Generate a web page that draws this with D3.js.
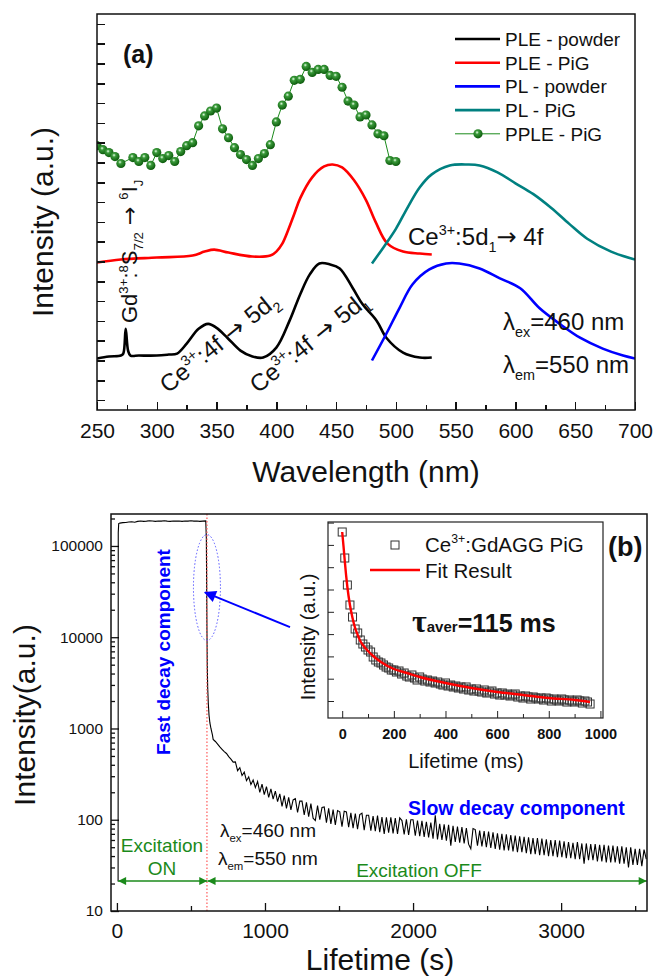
<!DOCTYPE html>
<html>
<head>
<meta charset="utf-8">
<script src="https://cdn.jsdelivr.net/npm/d3@7"></script>
<style>
  body { margin: 0; background: #fff; }
  text { font-family: "Liberation Sans", Arial, sans-serif; }
</style>
</head>
<body>
<script>
// ---------- panel (a) data ----------
var pleWl = [250,260,270,272,274,276,278,285,300,310,317,325,335,343,350,359,370,380,389,400,411,420,428,436,445,453,464,472,484,492,506,520,530];
var plePowder = [52,54,55,57,82,60,55,55,55,56,57,67,82,87,83,73,60,54,53,63,90,117,137,148,147,143,123,107,90,73,58,53,53];
var plePigWl = [250,270,300,330,340,348,360,380,395,400,405,410,415,420,430,440,447,455,465,475,483,493,506,520,530];
var plePig = [149,152,154,156,160,162,159,155,156,160,168,182,198,214,235,246,248,245,232,212,190,168,160,158,157];
var plPowderWl = [480,492,503,514,528,542,553,570,587,604,620,637,654,673,690,700];
var plPowder = [50,77,103,127,142,148,148,143,133,123,103,87,73,62,55,52];
var plPigWl = [480,490,500,510,520,530,545,560,570,585,600,615,630,645,660,680,700];
var plPig = [148,165,183,205,225,238,247,248,247,240,229,218,204,188,173,160,152];
var ppleWl = [250,255,260,265,270,280,285,290,295,300,305,310,315,320,325,330,335,340,345,350,355,360,365,370,375,380,385,390,395,400,405,410,415,420,425,430,435,440,445,450,455,460,465,470,475,480,485,490,495,500];
var pplePig = [267,263,260,256,249,255,251,255,247,260,254,257,251,261,267,270,287,297,302,305,284,275,265,258,253,247,254,259,268,291,308,317,333,334,347,341,344,344,338,337,326,312,308,296,298,288,279,277,252,251];
var wlTicks = [250,300,350,400,450,500,550,600,650,700];
var legendLabels = ["PLE - powder","PLE - PiG","PL - powder","PL - PiG","PPLE - PiG"];

// ---------- panel (b) data ----------
var onT = [8,9,12,20,40,60,80,100,120,140,160,180,200,220,240,260,280,300,320,340,360,380,400,420,440,460,480,500,520,540,560,580,600];
var onV = [21,140000,176000,178000,180000,181000,183000,184000,182000,186000,188000,186000,187000,189000,188000,186000,188000,187000,189000,187000,186000,188000,187000,188000,186000,188000,187000,189000,187000,188000,186000,187000,188000];
var dropT = [604,606,608,610,613,617,622,628,635,645];
var dropV = [120000,40000,12000,5000,2800,1900,1400,1150,1000,850];
var tailT = [
  650,665,680,695,710,725,740,755,770,785,
  800,815,830,845,860,875,890,905,920,935,
  950,965,980,995,1010,1025,1040,1055,1070,1085,
  1100,1115,1130,1145,1160,1175,1190,1205,1220,1235,
  1250,1265,1280,1295,1310,1325,1340,1355,1370,1385,
  1400,1415,1430,1445,1460,1475,1490,1505,1520,1535,
  1550,1565,1580,1595,1610,1625,1640,1655,1670,1685,
  1700,1715,1730,1745,1760,1775,1790,1805,1820,1835,
  1850,1865,1880,1895,1910,1925,1940,1955,1970,1985,
  2000,2015,2030,2045,2060,2075,2090,2105,2120,2135,
  2150,2165,2180,2195,2210,2225,2240,2255,2270,2285,
  2300,2315,2330,2345,2360,2375,2390,2405,2420,2435,
  2450,2465,2480,2495,2510,2525,2540,2555,2570,2585,
  2600,2615,2630,2645,2660,2675,2690,2705,2720,2735,
  2750,2765,2780,2795,2810,2825,2840,2855,2870,2885,
  2900,2915,2930,2945,2960,2975,2990,3005,3020,3035,
  3050,3065,3080,3095,3110,3125,3140,3155,3170,3185,
  3200,3215,3230,3245,3260,3275,3290,3305,3320,3335,
  3350,3365,3380,3395,3410,3425,3440,3455,3470,3485,
  3500,3515,3530,3545,3560,3575];
var tailV = [
  760,720,675,628,592,558,532,492,462,428,
  430,345,372,305,332,268,295,243,272,225,
  262,200,246,188,230,176,218,168,206,158,
  192,140,184,133,176,128,165,170,120,160,
  160,113,155,108,150,104,98,143,100,136,
  138,93,133,90,129,88,126,122,84,124,
  122,83,119,81,117,79,114,118,77,112,
  112,76,110,75,111,73,107,70,106,72,
  106,71,104,70,105,98,69,101,68,100,
  100,67,98,66,97,65,95,64,93,62,
  112,61,90,60,89,59,88,52,86,57,
  84,56,83,55,81,54,48,80,78,52,
  76,51,75,50,74,49,73,48,71,47,
  70,46,69,46,68,45,67,44,66,44,
  65,43,64,42,63,42,63,41,62,41,
  61,40,60,40,60,39,59,39,58,38,
  57,38,56,37,57,37,55,33,55,36,
  54,36,54,35,53,35,53,34,52,34,
  52,34,51,33,51,33,50,30,50,32,
  48,32,48,31,47,37];
var timeTicks = [0,1000,2000,3000];
var logTicks = [10,100,1000,10000,100000];

// inset
var insetT = [0,10,20,30,40,50,60,70,80,90,100,110,120,130,140,150,160,170,180,190,
  200,210,220,230,240,250,260,270,280,290,300,310,320,330,340,350,360,370,380,390,
  400,410,420,430,440,450,460,470,480,490,500,510,520,530,540,550,560,570,580,590,
  600,610,620,630,640,650,660,670,680,690,700,710,720,730,740,750,760,770,780,790,
  800,810,820,830,840,850,860,870,880,890,900,910,920,930,940,950,960];
var insetV = [186,160,133,113,101,89,85,78,74,71,68,66,61,58,56,55,53,51,50,48,
  48,46,47,44,45,42,41,43,40,38,41,39,37,38,36,37,35,36,34,33,
  35,32,33,31,32,30,31,29,31,28,29,27,29,27,26,28,25,26,27,24,
  25,23,25,23,24,22,23,24,21,22,20,22,21,19,21,20,19,20,18,20,
  19,17,19,18,17,19,18,16,18,17,16,18,17,15,17,16,14];
var fitT = [0,5,10,15,20,30,40,50,60,70,80,100,120,150,200,250,300,400,500,600,700,800,900,960];
var fitV = [186,172,157,143,131,113,100,90,83,77,73,67,62,56,49,45,41,35,30,26,23,20,18,16];
var insetTicks = [0,200,400,600,800,1000];

var green = "#1b8a1b";
var ARROW_FONT = "DejaVu Sans";

var svg = d3.select("body").append("svg").attr("width", 655).attr("height", 979);
var defs = svg.append("defs");

// rich text: parts with sup/sub
function rich(g, tr, size, parts, attrs) {
  var t = g.append("text").attr("transform", tr).attr("font-size", size);
  if (attrs) for (var k in attrs) t.attr(k, attrs[k]);
  var shift = 0;
  parts.forEach(function (p) {
    var target = p.sup ? -0.42 * size : (p.sub ? 0.28 * size : 0);
    var s = t.append("tspan").text(p.t).attr("dy", target - shift);
    if (p.sup || p.sub) s.attr("font-size", size * 0.6);
    if (p.font) s.attr("font-family", p.font);
    if (p.size) s.attr("font-size", p.size);
    shift = target;
  });
  return t;
}

// =============== panel (a) ===============
var xA = d3.scaleLinear().domain([250, 700]).range([97, 635]);
var yA = d3.scaleLinear().domain([0, 400]).range([410, 14]);

defs.append("clipPath").attr("id", "clipA").append("rect")
  .attr("x", 97).attr("y", 14).attr("width", 538).attr("height", 396);

var ga = svg.append("g");

var grad = defs.append("radialGradient").attr("id", "ball").attr("cx", "40%").attr("cy", "35%").attr("r", "65%");
grad.append("stop").attr("offset", "0%").attr("stop-color", "#e8ffe8");
grad.append("stop").attr("offset", "30%").attr("stop-color", "#3a9a3a");
grad.append("stop").attr("offset", "100%").attr("stop-color", "#0b5a0b");

var lineA = d3.line().x(function (d) { return xA(d[0]); }).y(function (d) { return yA(d[1]); })
  .curve(d3.curveCatmullRom.alpha(0.5));

var seriesA = [
  {wl: pleWl, v: plePowder, c: "#000000"},
  {wl: plePigWl, v: plePig, c: "#ff0000"},
  {wl: plPowderWl, v: plPowder, c: "#0000ff"},
  {wl: plPigWl, v: plPig, c: "#008080"}
];
var plotA = ga.append("g").attr("clip-path", "url(#clipA)");
seriesA.forEach(function (s) {
  plotA.append("path").datum(d3.zip(s.wl, s.v)).attr("d", lineA)
    .attr("fill", "none").attr("stroke", s.c).attr("stroke-width", 2.6);
});
var ppleData = d3.zip(ppleWl, pplePig);
plotA.append("path").datum(ppleData)
  .attr("d", d3.line().x(function (d) { return xA(d[0]); }).y(function (d) { return yA(d[1]); }))
  .attr("fill", "none").attr("stroke", green).attr("stroke-width", 1);
plotA.selectAll("circle.pp").data(ppleData).enter().append("circle")
  .attr("cx", function (d) { return xA(d[0]); }).attr("cy", function (d) { return yA(d[1]); })
  .attr("r", 4.6).attr("fill", "url(#ball)");

// axes (a)
ga.append("g").attr("transform", "translate(0,410)")
  .call(d3.axisBottom(xA).tickValues(d3.range(275, 700, 50)).tickSize(-5).tickFormat(""))
  .call(function (g) { g.select(".domain").remove(); });
ga.append("g").attr("transform", "translate(0,410)")
  .call(d3.axisBottom(xA).tickValues(wlTicks).tickSizeInner(-8).tickSizeOuter(0).tickPadding(13)
    .tickFormat(d3.format("d")))
  .call(function (g) {
    g.select(".domain").remove();
    g.selectAll("text").attr("font-size", 21).attr("fill", "#111").attr("font-family", "Liberation Sans, Arial");
  });
ga.append("g").attr("transform", "translate(97,0)")
  .call(d3.axisLeft(yA).tickValues(d3.range(10, 400, 20)).tickSize(-8).tickFormat(""))
  .call(function (g) { g.select(".domain").remove(); });
ga.selectAll(".tick line").attr("stroke", "#111").attr("stroke-width", 1.5).attr("shape-rendering", "crispEdges");
ga.append("rect").attr("x", 97).attr("y", 14).attr("width", 538).attr("height", 396)
  .attr("fill", "none").attr("stroke", "#111").attr("stroke-width", 1.5);

ga.append("text").attr("x", 366).attr("y", 482).attr("text-anchor", "middle")
  .attr("font-size", 30).attr("fill", "#111").text("Wavelength (nm)");
ga.append("text").attr("transform", "translate(53,222) rotate(-90)").attr("text-anchor", "middle")
  .attr("font-size", 30).attr("fill", "#111").text("Intensity (a.u.)");
ga.append("text").attr("x", 123).attr("y", 63).attr("font-size", 25).attr("font-weight", "bold")
  .attr("fill", "#111").text("(a)");

// legend (a)
var legColors = ["#000000", "#ff0000", "#0000ff", "#008080", green];
legendLabels.forEach(function (lab, i) {
  var y = 39 + i * 23.7;
  if (i < 4) {
    ga.append("line").attr("x1", 455).attr("x2", 500).attr("y1", y).attr("y2", y)
      .attr("stroke", legColors[i]).attr("stroke-width", 2.6);
  } else {
    ga.append("line").attr("x1", 455).attr("x2", 500).attr("y1", y).attr("y2", y)
      .attr("stroke", green).attr("stroke-width", 1);
    ga.append("circle").attr("cx", 478).attr("cy", y).attr("r", 4.6).attr("fill", "url(#ball)");
  }
  ga.append("text").attr("x", 505).attr("y", y + 7).attr("font-size", 19).attr("fill", "#111").text(lab);
});

// annotations (a)
rich(ga, "translate(137,323) rotate(-90)", 22, [
  {t: "Gd"}, {t: "3+", sup: true}, {t: ":"}, {t: "8", sup: true}, {t: "S"}, {t: "7/2", sub: true},
  {t: " \u2192 ", font: ARROW_FONT}, {t: "6", sup: true}, {t: "I"}, {t: "J", sub: true}
], {fill: "#111"});
rich(ga, "translate(168,394) rotate(-39)", 24, [
  {t: "Ce"}, {t: "3+", sup: true}, {t: ":4f"}, {t: " \u2192 ", font: ARROW_FONT}, {t: "5d"}, {t: "2", sub: true}
], {fill: "#111"});
rich(ga, "translate(258,394) rotate(-39)", 24, [
  {t: "Ce"}, {t: "3+", sup: true}, {t: ":4f"}, {t: " \u2192 ", font: ARROW_FONT}, {t: "5d"}, {t: "1", sub: true}
], {fill: "#111"});
rich(ga, "translate(408,245)", 24, [
  {t: "Ce"}, {t: "3+", sup: true}, {t: ":5d"}, {t: "1", sub: true}, {t: "\u2192", font: ARROW_FONT}, {t: " 4f"}
], {fill: "#111"});
rich(ga, "translate(503,330)", 24, [{t: "\u03bb"}, {t: "ex", sub: true}, {t: "=460 nm"}], {fill: "#111"});
rich(ga, "translate(503,373)", 24, [{t: "\u03bb"}, {t: "em", sub: true}, {t: "=550 nm"}], {fill: "#111"});

// =============== panel (b) ===============
var xB = d3.scaleLinear().domain([-40, 3580]).range([111, 647]);
var yB = d3.scaleLog().domain([10, 224000]).range([911, 514]);
var gb = svg.append("g");

// axes (b)
gb.append("g").attr("transform", "translate(0,911)")
  .call(d3.axisBottom(xB).tickValues([500, 1500, 2500, 3500]).tickSize(-5).tickFormat(""))
  .call(function (g) { g.select(".domain").remove(); });
gb.append("g").attr("transform", "translate(0,911)")
  .call(d3.axisBottom(xB).tickValues(timeTicks).tickSizeInner(-8).tickSizeOuter(0).tickPadding(12)
    .tickFormat(d3.format("d")))
  .call(function (g) {
    g.select(".domain").remove();
    g.selectAll("text").attr("font-size", 21).attr("fill", "#111").attr("font-family", "Liberation Sans, Arial");
  });
var minorLog = [];
logTicks.forEach(function (p) {
  for (var m = 2; m <= 9; m++) { if (p * m < 224000) minorLog.push(p * m); }
});
gb.append("g").attr("transform", "translate(111,0)")
  .call(d3.axisLeft(yB).tickValues(minorLog).tickSize(-4).tickFormat(""))
  .call(function (g) { g.select(".domain").remove(); });
gb.append("g").attr("transform", "translate(111,0)")
  .call(d3.axisLeft(yB).tickValues(logTicks).tickSizeInner(-8).tickSizeOuter(0).tickPadding(8)
    .tickFormat(d3.format("d")))
  .call(function (g) {
    g.select(".domain").remove();
    g.selectAll("text").attr("font-size", 15.5).attr("fill", "#111").attr("font-family", "Liberation Sans, Arial");
  });
gb.selectAll(".tick line").attr("stroke", "#111").attr("stroke-width", 1.3);

defs.append("clipPath").attr("id", "clipB").append("rect")
  .attr("x", 111).attr("y", 514).attr("width", 536).attr("height", 397);

var decay = d3.zip(onT, onV).concat(d3.zip(dropT, dropV), d3.zip(tailT, tailV));
gb.append("g").attr("clip-path", "url(#clipB)").append("path").datum(decay)
  .attr("d", d3.line().x(function (d) { return xB(d[0]); }).y(function (d) { return yB(d[1]); }))
  .attr("fill", "none").attr("stroke", "#000").attr("stroke-width", 1.1);

// red dotted switch-off line
gb.append("line").attr("x1", xB(608)).attr("x2", xB(608)).attr("y1", 514).attr("y2", 911)
  .attr("stroke", "#ff5a5a").attr("stroke-width", 1.2).attr("stroke-dasharray", "1.5,2");

// blue dotted ellipse + arrow
gb.append("ellipse").attr("cx", xB(608)).attr("cy", yB(35000)).attr("rx", 13.5).attr("ry", 53)
  .attr("fill", "none").attr("stroke", "#5555ff").attr("stroke-width", 1).attr("stroke-dasharray", "1.5,2");
defs.append("marker").attr("id", "bArrow").attr("viewBox", "0 0 10 10").attr("refX", 9).attr("refY", 5)
  .attr("markerWidth", 16).attr("markerHeight", 12).attr("markerUnits", "userSpaceOnUse")
  .attr("orient", "auto").append("path").attr("d", "M0,0L10,5L0,10z").attr("fill", "#0000ff");
gb.append("line").attr("x1", xB(1169)).attr("y1", yB(12900)).attr("x2", xB(595)).attr("y2", yB(31000))
  .attr("stroke", "#0000ff").attr("stroke-width", 2).attr("marker-end", "url(#bArrow)");

// green excitation arrows
defs.append("marker").attr("id", "gArrow").attr("viewBox", "0 0 10 10").attr("refX", 10).attr("refY", 5)
  .attr("markerWidth", 13).attr("markerHeight", 8).attr("markerUnits", "userSpaceOnUse")
  .attr("orient", "auto-start-reverse").append("path").attr("d", "M0,0L10,5L0,10z").attr("fill", green);
var arrowY = yB(21.3);
gb.append("line").attr("x1", xB(8)).attr("x2", xB(610)).attr("y1", arrowY).attr("y2", arrowY)
  .attr("stroke", green).attr("stroke-width", 1.6)
  .attr("marker-start", "url(#gArrow)").attr("marker-end", "url(#gArrow)");
gb.append("line").attr("x1", xB(612)).attr("x2", xB(3578)).attr("y1", arrowY).attr("y2", arrowY)
  .attr("stroke", green).attr("stroke-width", 1.6)
  .attr("marker-start", "url(#gArrow)").attr("marker-end", "url(#gArrow)");
gb.append("text").attr("x", 162).attr("y", 852).attr("text-anchor", "middle").attr("font-size", 19)
  .attr("fill", green).text("Excitation");
gb.append("text").attr("x", 162).attr("y", 875).attr("text-anchor", "middle").attr("font-size", 19)
  .attr("fill", green).text("ON");
gb.append("text").attr("x", 419).attr("y", 877).attr("text-anchor", "middle").attr("font-size", 19)
  .attr("fill", green).text("Excitation OFF");

rich(gb, "translate(220,837)", 19, [{t: "\u03bb"}, {t: "ex", sub: true}, {t: "=460 nm"}], {fill: "#111"});
rich(gb, "translate(218,865)", 19, [{t: "\u03bb"}, {t: "em", sub: true}, {t: "=550 nm"}], {fill: "#111"});

gb.append("text").attr("transform", "translate(170,652) rotate(-90)").attr("text-anchor", "middle")
  .attr("font-size", 19).attr("font-weight", "bold").attr("fill", "#0000ff").text("Fast decay component");
gb.append("text").attr("x", 408).attr("y", 815).attr("font-size", 19.5).attr("font-weight", "bold")
  .attr("fill", "#0000ff").text("Slow decay component");

gb.append("rect").attr("x", 111).attr("y", 514).attr("width", 536).attr("height", 397)
  .attr("fill", "none").attr("stroke", "#111").attr("stroke-width", 1.5);
gb.append("text").attr("x", 380).attr("y", 970).attr("text-anchor", "middle")
  .attr("font-size", 30).attr("fill", "#111").text("Lifetime (s)");
gb.append("text").attr("transform", "translate(35,715) rotate(-90)").attr("text-anchor", "middle")
  .attr("font-size", 30).attr("fill", "#111").text("Intensity(a.u.)");
gb.append("text").attr("x", 608).attr("y", 556).attr("font-size", 27).attr("font-weight", "bold")
  .attr("fill", "#111").text("(b)");

// =============== inset ===============
var xI = d3.scaleLinear().domain([-55, 1010]).range([328, 603]);
var yI = d3.scaleLinear().domain([0, 196]).range([718, 522]);
var gi = svg.append("g");
gi.append("rect").attr("x", 328).attr("y", 522).attr("width", 275).attr("height", 196).attr("fill", "#fff");
gi.append("g").attr("transform", "translate(0,718)")
  .call(d3.axisBottom(xI).tickValues([100, 300, 500, 700, 900]).tickSize(-4).tickFormat(""))
  .call(function (g) { g.select(".domain").remove(); });
gi.append("g").attr("transform", "translate(0,718)")
  .call(d3.axisBottom(xI).tickValues(insetTicks).tickSizeInner(-7).tickSizeOuter(0).tickPadding(11)
    .tickFormat(d3.format("d")))
  .call(function (g) {
    g.select(".domain").remove();
    g.selectAll("text").attr("font-size", 14.5).attr("font-weight", "bold").attr("fill", "#111")
      .attr("font-family", "Liberation Sans, Arial");
  });
gi.append("g").attr("transform", "translate(328,0)")
  .call(d3.axisLeft(yI).tickValues(d3.range(17, 196, 22.3)).tickSize(-6).tickFormat(""))
  .call(function (g) { g.select(".domain").remove(); });
gi.selectAll(".tick line").attr("stroke", "#222").attr("stroke-width", 1);

gi.selectAll("rect.sq").data(d3.zip(insetT, insetV)).enter().append("rect")
  .attr("x", function (d) { return xI(d[0]) - 4; }).attr("y", function (d) { return yI(d[1]) - 4; })
  .attr("width", 8).attr("height", 8).attr("fill", "none").attr("stroke", "#333").attr("stroke-width", 1);
gi.append("path").datum(d3.zip(fitT, fitV))
  .attr("d", d3.line().x(function (d) { return xI(d[0]); }).y(function (d) { return yI(d[1]); })
    .curve(d3.curveMonotoneX))
  .attr("fill", "none").attr("stroke", "#ff0000").attr("stroke-width", 2.4);
gi.append("rect").attr("x", 328).attr("y", 522).attr("width", 275).attr("height", 196)
  .attr("fill", "none").attr("stroke", "#222").attr("stroke-width", 1.2);

// inset legend and labels
gi.append("rect").attr("x", 391).attr("y", 541).attr("width", 8).attr("height", 8)
  .attr("fill", "none").attr("stroke", "#333").attr("stroke-width", 1);
rich(gi, "translate(425,552)", 20.5, [{t: "Ce"}, {t: "3+", sup: true}, {t: ":GdAGG PiG"}], {fill: "#111"});
gi.append("line").attr("x1", 370).attr("x2", 420).attr("y1", 570).attr("y2", 570)
  .attr("stroke", "#ff0000").attr("stroke-width", 2.4);
gi.append("text").attr("x", 425).attr("y", 578).attr("font-size", 20.5).attr("fill", "#111").text("Fit Result");
rich(gi, "translate(412,632)", 25, [
  {t: "\u03c4", font: "Liberation Serif, serif", size: 32},
  {t: "aver", size: 15},
  {t: "=115 ms"}
], {fill: "#111", "font-weight": "bold"});
gi.append("text").attr("x", 466).attr("y", 768).attr("text-anchor", "middle").attr("font-size", 20)
  .attr("fill", "#111").text("Lifetime (ms)");
gi.append("text").attr("transform", "translate(315,637) rotate(-90)").attr("text-anchor", "middle")
  .attr("font-size", 20).attr("fill", "#111").text("Intensity (a.u.)");
</script>
</body>
</html>
